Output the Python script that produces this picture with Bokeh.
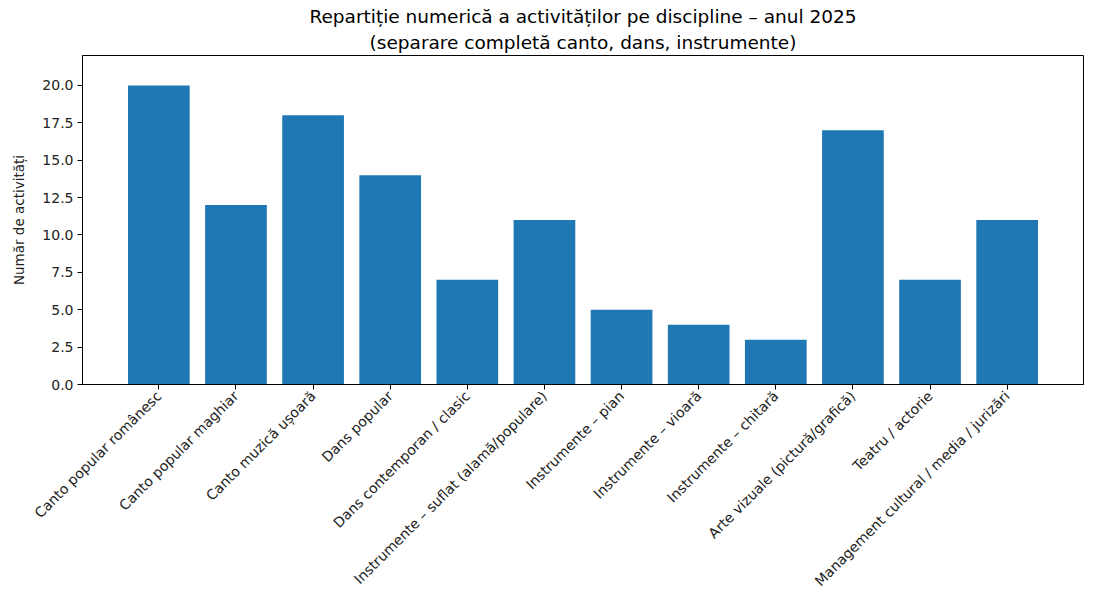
from bokeh.plotting import figure
from bokeh.models import FactorRange, Range1d, Title, FixedTicker, NumeralTickFormatter, ColumnDataSource
from bokeh.embed import file_html
from bokeh.resources import INLINE
import math

categories = [
    "Canto popular românesc",
    "Canto popular maghiar",
    "Canto muzică ușoară",
    "Dans popular",
    "Dans contemporan / clasic",
    "Instrumente – suflat (alamă/populare)",
    "Instrumente – pian",
    "Instrumente – vioară",
    "Instrumente – chitară",
    "Arte vizuale (pictură/grafică)",
    "Teatru / actorie",
    "Management cultural / media / jurizări",
]
counts = [20, 12, 18, 14, 7, 11, 5, 4, 3, 17, 7, 11]
y_ticks = [0, 2.5, 5, 7.5, 10, 12.5, 15, 17.5, 20]
title_line1 = "Repartiție numerică a activităților pe discipline – anul 2025"
title_line2 = "(separare completă canto, dans, instrumente)"

FONT = "DejaVu Sans"
source = ColumnDataSource(dict(cat=categories, n=counts))

p = figure(
    x_range=FactorRange(factors=categories, range_padding=0.49, range_padding_units="absolute"),
    y_range=Range1d(0, 22),
    width=1093, height=598,
    output_backend="svg", toolbar_location=None,
    min_border_left=82, min_border_right=10, min_border_top=55, min_border_bottom=214,
)
p.vbar(x="cat", top="n", width=0.8, source=source, color="#1f77b4", line_color=None)

p.title = None
t2 = Title(text=title_line2, align="center", standoff=6,
           text_font=FONT, text_font_size="18.5px", text_font_style="normal", text_color="black")
t1 = Title(text=title_line1, align="center", standoff=0,
           text_font=FONT, text_font_size="18.5px", text_font_style="normal", text_color="black")
p.add_layout(t2, "above")
p.add_layout(t1, "above")

p.xgrid.grid_line_color = None
p.ygrid.grid_line_color = None
p.outline_line_color = "black"
p.outline_line_width = 1

for ax in (p.xaxis[0], p.yaxis[0]):
    ax.axis_line_color = "black"
    ax.major_tick_in = 0
    ax.major_tick_out = 5
    ax.minor_tick_line_color = None
    ax.major_label_text_font = FONT
    ax.major_label_text_font_size = "14px"
    ax.major_label_text_color = "#222222"
    ax.major_label_standoff = 4

p.yaxis.ticker = FixedTicker(ticks=y_ticks)
p.yaxis.formatter = NumeralTickFormatter(format="0.0")
p.yaxis.axis_label = "Număr de activități"
p.yaxis.axis_label_text_font = FONT
p.yaxis.axis_label_text_font_size = "13.5px"
p.yaxis.axis_label_text_font_style = "normal"
p.yaxis.axis_label_text_color = "#222222"
p.yaxis.axis_label_standoff = 12

p.xaxis.major_label_orientation = math.pi / 4
p.xaxis.group_text_font_size = "0px"

open("out.html", "w").write(file_html(p, INLINE))
